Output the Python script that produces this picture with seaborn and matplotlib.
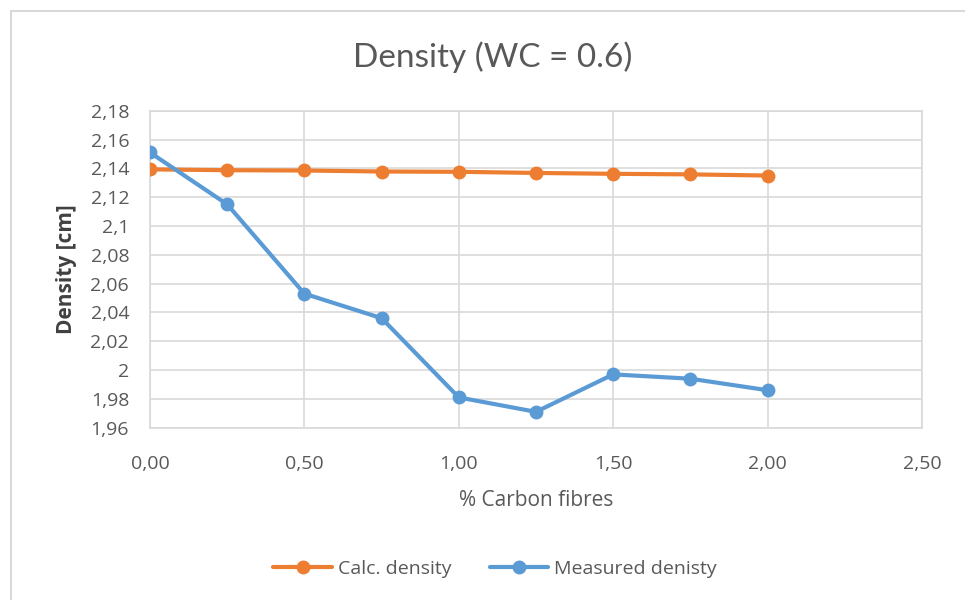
import matplotlib
matplotlib.use("Agg")
import matplotlib.pyplot as plt
from matplotlib.lines import Line2D
from matplotlib.ticker import FuncFormatter, MultipleLocator
import seaborn as sns
import pandas as pd

# Fibre content (%) and densities
carbon_fibres = [0.00, 0.25, 0.50, 0.75, 1.00, 1.25, 1.50, 1.75, 2.00]
calc_density = [2.1393, 2.1387, 2.1385, 2.1378, 2.1376, 2.1368, 2.1362, 2.1358, 2.1350]
measured_density = [2.151, 2.115, 2.053, 2.036, 1.981, 1.971, 1.997, 1.994, 1.986]

series_names = ["Calc. density", "Measured denisty"]
series_colors = ["#ED7D31", "#5B9BD5"]

df = pd.concat([
    pd.DataFrame({"x": carbon_fibres, "y": calc_density, "series": series_names[0]}),
    pd.DataFrame({"x": carbon_fibres, "y": measured_density, "series": series_names[1]}),
])

sns.set_theme(style="white")
plt.rcParams["font.family"] = ["Open Sans", "DejaVu Sans"]

fig = plt.figure(figsize=(9.65, 6.0), dpi=100)
ax = fig.add_axes([150 / 965, 1 - 427.7 / 600, (922 - 150) / 965, (427.7 - 110.7) / 600])

palette = dict(zip(series_names, series_colors))
sns.lineplot(data=df, x="x", y="y", hue="series", palette=palette, ax=ax,
             marker="o", markersize=10, markeredgewidth=0, linewidth=3,
             legend=False, zorder=3)

ax.set_xlim(0, 2.5)
ax.set_ylim(1.96, 2.18)
ax.xaxis.set_major_locator(MultipleLocator(0.5))
ax.yaxis.set_major_locator(MultipleLocator(0.02))

def fmt_x(v, _):
    return f"{v:.2f}".replace(".", ",")

def fmt_y(v, _):
    s = f"{v:.2f}".rstrip("0").rstrip(".")
    return s.replace(".", ",")

ax.xaxis.set_major_formatter(FuncFormatter(fmt_x))
ax.yaxis.set_major_formatter(FuncFormatter(fmt_y))

grid_c = "#D9D9D9"
ax.grid(True, color=grid_c, linewidth=1.2, zorder=0)
for s in ax.spines.values():
    s.set_color(grid_c)
    s.set_linewidth(1.2)
ax.tick_params(axis="both", length=0, labelsize=14, colors="#595959")
ax.tick_params(axis="x", pad=20)
ax.tick_params(axis="y", pad=15)

ax.set_xlabel("% Carbon fibres", fontsize=15, color="#595959", labelpad=12)
ax.set_ylabel("Density [cm]", fontsize=15, color="#404040", fontweight="bold", labelpad=10)
fig.text(0.511, 1 - 57 / 600, "Density (WC = 0.6)", ha="center", va="center",
         fontsize=24, color="#595959", family=["Lato", "DejaVu Sans"])

handles = [Line2D([0], [0], color=c, linewidth=3, marker="o", markersize=10,
                  markeredgewidth=0) for c in series_colors]
fig.legend(handles, series_names, loc="center", bbox_to_anchor=(0.513, 1 - 569 / 600),
           ncol=2, frameon=False, fontsize=14, labelcolor="#595959",
           handlelength=3.0, handletextpad=0.3, columnspacing=2.0)

# Chart area border
fig.add_artist(Line2D([11 / 965, 1.0], [1 - 11 / 600, 1 - 11 / 600],
                      transform=fig.transFigure, color="#D9D9D9", linewidth=1.5))
fig.add_artist(Line2D([11 / 965, 11 / 965], [0.0, 1 - 11 / 600],
                      transform=fig.transFigure, color="#D9D9D9", linewidth=1.5))

fig.savefig("out.png", dpi=100, facecolor="white")
